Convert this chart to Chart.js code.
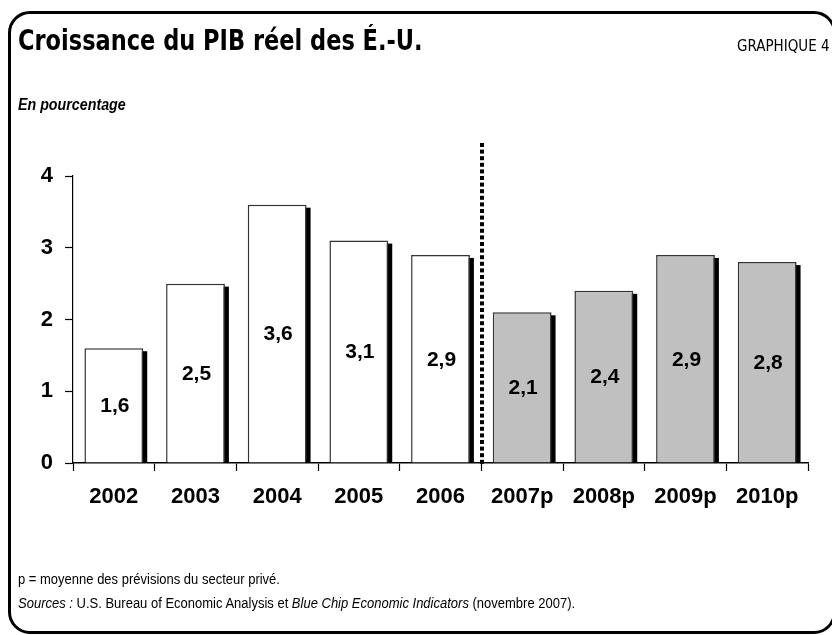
<!DOCTYPE html>
<html lang="fr">
  <head>
    <meta charset="UTF-8" />
    <title>Croissance du PIB réel des É.-U.</title>
    <script src="https://cdn.jsdelivr.net/npm/chart.js@4.4.0/dist/chart.umd.min.js"></script>
    <style>
      html, body { margin: 0; padding: 0; background: #fff; }
      #page { position: relative; width: 832px; height: 635px; overflow: hidden; }
      #frame {
        position: absolute; left: 8px; top: 11px; width: 822px; height: 617px;
        border: 3px solid #000; border-radius: 22px;
      }
      .txt { position: absolute; color: #000; white-space: nowrap; }
      #title { left: 18px; top: 24px; font: bold 25px "DejaVu Sans Condensed", "Liberation Sans Narrow", sans-serif; transform: scaleY(1.15); transform-origin: left top; }
      #num { left: 737px; top: 36px; font: 15px "DejaVu Sans Condensed", sans-serif; transform: scaleY(1.1); transform-origin: left top; }
      #unit { left: 18px; top: 95px; font: italic bold 15px "Liberation Sans", Arial, sans-serif; transform: scaleX(0.95) scaleY(1.1); transform-origin: left top; }
      .foot { left: 18px; font: 13px "Liberation Sans", Arial, sans-serif; transform: scaleY(1.1); transform-origin: left top; }
      #chart { position: absolute; left: 0; top: 0; }
    </style>
  </head>
  <body>
    <div id="page">
      <canvas id="chart" width="832" height="635"></canvas>
      <div id="frame"></div>
      <div class="txt" id="title">Croissance du PIB réel des É.-U.</div>
      <div class="txt" id="num">GRAPHIQUE 4</div>
      <div class="txt" id="unit">En pourcentage</div>
      <div class="txt foot" style="top:571px">p = moyenne des prévisions du secteur privé.</div>
      <div class="txt foot" style="top:595px"><i>Sources :</i> U.S. Bureau of Economic Analysis et <i>Blue Chip Economic Indicators</i> (novembre 2007).</div>
    </div>

    <script>
      // Data
      const years = ["2002", "2003", "2004", "2005", "2006", "2007p", "2008p", "2009p", "2010p"];
      const growth = [1.6, 2.5, 3.6, 3.1, 2.9, 2.1, 2.4, 2.9, 2.8];
      const forecast = [false, false, false, false, false, true, true, true, true];
      const yTicks = [0, 1, 2, 3, 4];

      const fmt = v => v.toFixed(1).replace(".", ",");
      const font = "'Liberation Sans', Arial, sans-serif";

      // black drop shadow behind each bar + dotted separator + value labels
      const decor = {
        id: "decor",
        beforeDatasetsDraw(chart) {
          const ctx = chart.ctx;
          ctx.save();
          ctx.fillStyle = "#000";
          chart.getDatasetMeta(0).data.forEach(bar => {
            const half = bar.width / 2;
            ctx.fillRect(bar.x - half + 4, bar.y + 3, bar.width, bar.base - bar.y - 3);
          });
          ctx.restore();
        },
        afterDatasetsDraw(chart) {
          const ctx = chart.ctx;
          const meta = chart.getDatasetMeta(0).data;
          const { top, bottom } = chart.chartArea;
          // separator between last actual and first forecast
          const i = forecast.indexOf(true);
          const x = Math.round((meta[i - 1].x + meta[i].x) / 2) + 1;
          ctx.save();
          ctx.fillStyle = "#000";
          for (let y = top - 33; y < bottom; y += 6.6) {
            ctx.fillRect(x - 2, y, 4, 4);
          }
          ctx.font = "bold 21px " + font;
          ctx.textAlign = "center";
          ctx.textBaseline = "middle";
          meta.forEach((bar, k) => {
            ctx.fillText(fmt(growth[k]), bar.x + 1, (bar.y + bar.base) / 2 + 1);
          });
          ctx.restore();
        },
      };

      new Chart(document.getElementById("chart"), {
        type: "bar",
        data: {
          labels: years,
          datasets: [
            {
              data: growth,
              backgroundColor: forecast.map(f => (f ? "#c0c0c0" : "#ffffff")),
              borderColor: "#333",
              borderWidth: 1.5,
              borderSkipped: "bottom",
              categoryPercentage: 1,
              barPercentage: 0.72,
            },
          ],
        },
        options: {
          responsive: false,
          animation: false,
          events: [],
          layout: { padding: { left: 0, right: 24, top: 176, bottom: 122 } },
          plugins: { legend: { display: false }, tooltip: { enabled: false } },
          scales: {
            x: {
              afterFit: s => { s.height = 50; },
              border: { color: "#000", width: 1.5 },
              grid: { drawOnChartArea: false, tickLength: 8, color: "#000", tickWidth: 1.2 },
              ticks: {
                color: "#000",
                padding: 13,
                font: { family: font, size: 22, weight: "bold" },
              },
            },
            y: {
              min: 0,
              max: 4,
              afterFit: s => { s.width = 73; },
              afterBuildTicks: s => { s.ticks = yTicks.map(v => ({ value: v })); },
              border: { color: "#000", width: 1.2 },
              grid: { drawOnChartArea: false, tickLength: 8, color: "#000", tickWidth: 1.2 },
              ticks: {
                color: "#000",
                padding: 12,
                font: { family: font, size: 22, weight: "bold" },
              },
            },
          },
        },
        plugins: [decor],
      });
    </script>
  </body>
</html>
